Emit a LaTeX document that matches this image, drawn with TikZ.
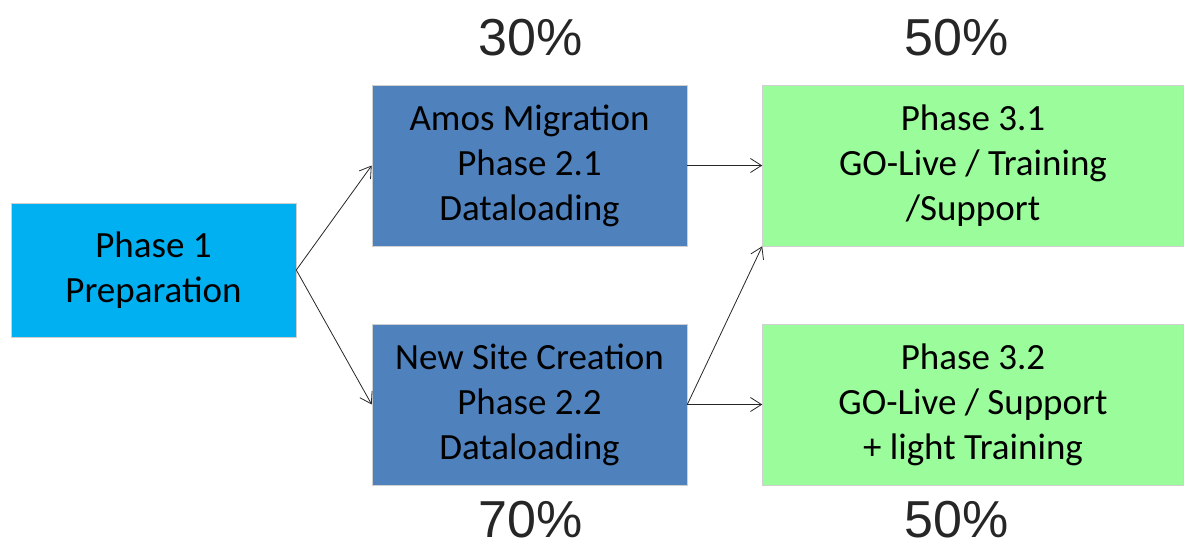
\documentclass[tikz,border=0pt]{standalone}
\usepackage{fontspec}
\setmainfont{Carlito}
\newfontfamily\pctfont{Liberation Sans}
\usetikzlibrary{arrows.meta}
\definecolor{cyanbox}{HTML}{00B0F0}
\definecolor{bluebox}{HTML}{4F81BD}
\definecolor{greenbox}{HTML}{9BFC9B}
\definecolor{edgegray}{HTML}{D0D0D0}
\tikzset{
  box/.style={rectangle, draw=edgegray, line width=0.6pt, align=center, inner sep=0pt,
    font=\fontsize{37}{45}\selectfont, text=black},
  p1box/.style={box, fill=cyanbox, minimum width=285pt, minimum height=134pt},
  midbox/.style={box, fill=bluebox, minimum width=315pt, minimum height=161pt},
  endbox/.style={box, fill=greenbox, minimum width=421pt, minimum height=161pt},
  pct/.style={font=\pctfont\fontsize{52}{58}\selectfont, inner sep=0pt, text=black!85},
  conn/.style={draw=black!85, line width=0.8pt, -{Straight Barb[length=11pt,width=14pt,line width=0.8pt]}}
}
\begin{document}
\begin{tikzpicture}[x=1pt,y=-1pt]
\useasboundingbox (0,0) rectangle (1189,547);
\node[p1box] (p1) at (153.5,270) {Phase 1\\Preparation};
\node[midbox] (a) at (529.5,165.5) {Amos Migration\\Phase 2.1\\Dataloading};
\node[midbox] (n) at (529.5,404.5) {New Site Creation\\Phase 2.2\\Dataloading};
\node[endbox] (g1) at (973,165.5) {Phase 3.1\\GO-Live / Training\\/Support};
\node[endbox] (g2) at (973,404.5) {Phase 3.2\\GO-Live / Support\\+ light Training};
\node[pct] (t1) at (531,38) {30\%};
\node[pct] (t2) at (957,38) {50\%};
\node[pct] (t3) at (531,520) {70\%};
\node[pct] (t4) at (957,520) {50\%};
\draw[conn] (p1.east) -- (a.west);
\draw[conn] (p1.east) -- (n.west);
\draw[conn] (a.east) -- (g1.west);
\draw[conn] (n.east) -- (g2.west);
\draw[conn] (n.east) -- (g1.south west);
\end{tikzpicture}
\end{document}
